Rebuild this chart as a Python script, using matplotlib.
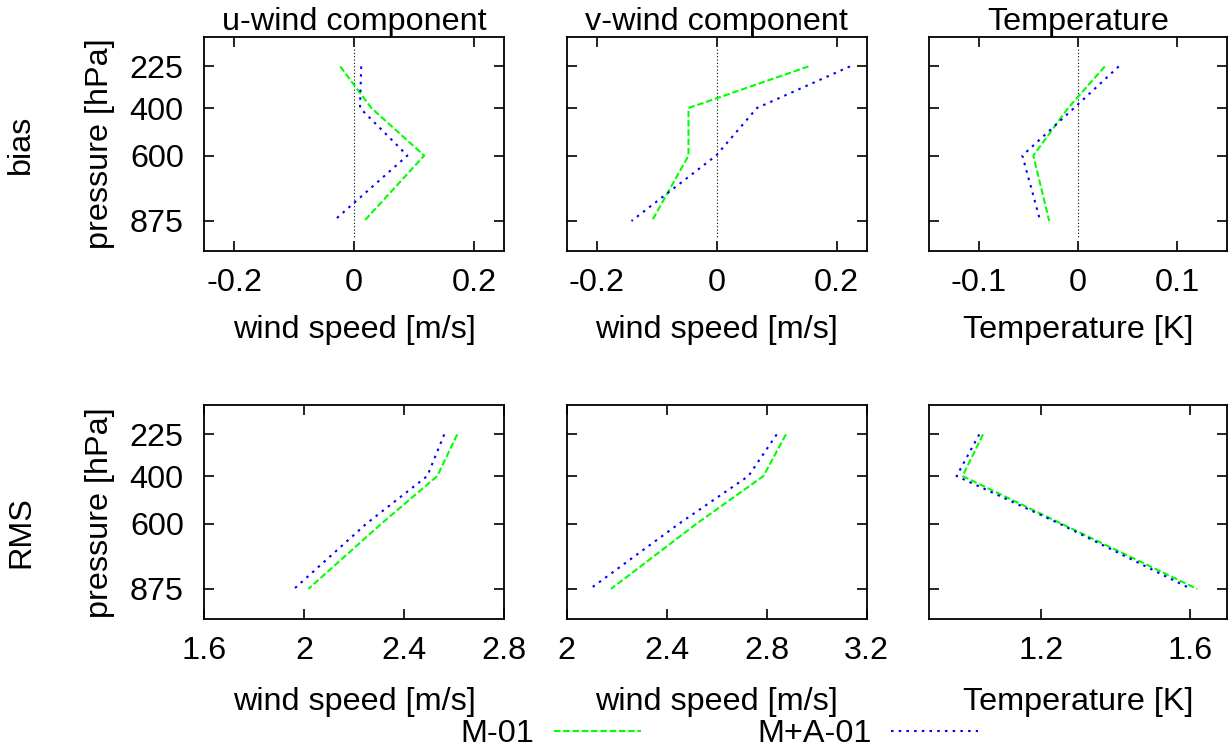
import matplotlib
matplotlib.use("Agg")
import matplotlib.pyplot as plt

plt.rcParams["font.family"] = ["Liberation Sans", "DejaVu Sans"]
plt.rcParams["axes.unicode_minus"] = False

# pressure levels (hPa)
pressure = [225, 400, 600, 875]

# bias profiles
bias_u_m01 = [-0.023, 0.029, 0.117, 0.017]
bias_u_ma01 = [0.012, 0.010, 0.089, -0.034]
bias_v_m01 = [0.153, -0.047, -0.047, -0.108]
bias_v_ma01 = [0.222, 0.067, -0.001, -0.142]
bias_t_m01 = [0.027, -0.010, -0.045, -0.029]
bias_t_ma01 = [0.041, -0.004, -0.056, -0.038]

# RMS profiles
rms_u_m01 = [2.613, 2.533, 2.31, 2.017]
rms_u_ma01 = [2.561, 2.493, 2.25, 1.96]
rms_v_m01 = [2.877, 2.787, 2.52, 2.177]
rms_v_ma01 = [2.84, 2.727, 2.45, 2.093]
rms_t_m01 = [1.045, 0.99, 1.255, 1.62]
rms_t_ma01 = [1.035, 0.974, 1.25, 1.604]

zero_line_p = [150, 950]

titles = ["u-wind component", "v-wind component", "Temperature"]
xlabels = ["wind speed [m/s]", "wind speed [m/s]", "Temperature [K]"]
row_labels = ["bias", "RMS"]
series_labels = ["M-01", "M+A-01"]

bias_xticks = [[-0.2, 0, 0.2], [-0.2, 0, 0.2], [-0.1, 0, 0.1]]
bias_xticklabels = [["-0.2", "0", "0.2"], ["-0.2", "0", "0.2"], ["-0.1", "0", "0.1"]]
bias_xlims = [(-0.25, 0.25), (-0.25, 0.25), (-0.15, 0.15)]
rms_xticks = [[1.6, 2.0, 2.4, 2.8], [2.0, 2.4, 2.8, 3.2], [1.2, 1.6]]
rms_xticklabels = [["1.6", "2", "2.4", "2.8"], ["2", "2.4", "2.8", "3.2"], ["1.2", "1.6"]]
rms_xlims = [(1.6, 2.8), (2.0, 3.2), (0.9, 1.7)]

W, H = 1228, 747
FS = 23.3
GREEN = "#00ff00"
BLUE = "#0000ff"

fig = plt.figure(figsize=(W / 100, H / 100), dpi=100)

col_left = [204, 566.7, 929]
col_width = [300, 300, 298]
row_top = [36.7, 404.7]
row_h = 214
xlabel_off = [79.3, 83.0]

bias_data = [(bias_u_m01, bias_u_ma01), (bias_v_m01, bias_v_ma01), (bias_t_m01, bias_t_ma01)]
rms_data = [(rms_u_m01, rms_u_ma01), (rms_v_m01, rms_v_ma01), (rms_t_m01, rms_t_ma01)]

handles = None
for r in range(2):
    data = bias_data if r == 0 else rms_data
    xticks = bias_xticks if r == 0 else rms_xticks
    xtl = bias_xticklabels if r == 0 else rms_xticklabels
    xlims = bias_xlims if r == 0 else rms_xlims
    for c in range(3):
        ax = fig.add_axes([col_left[c] / W, 1 - (row_top[r] + row_h) / H,
                           col_width[c] / W, row_h / H])
        m01, ma01 = data[c]
        if r == 0:
            ax.plot([0, 0], zero_line_p, color="black", lw=0.8, ls=(0, (1, 2)))
        l1, = ax.plot(m01, pressure, color=GREEN, lw=1.5, dashes=(3.1, 1.35),
                      label=series_labels[0])
        l2, = ax.plot(ma01, pressure, color=BLUE, lw=1.5, dashes=(1.2, 2.5),
                      label=series_labels[1])
        handles = [l1, l2]
        ax.set_ylim(1000, 100)
        ax.set_xlim(*xlims[c])
        ax.set_yticks(pressure)
        ax.set_xticks(xticks[c])
        ax.set_xticklabels(xtl[c])
        ax.tick_params(direction="in", top=True, right=True, length=7, width=1.2,
                       labelsize=FS)
        ax.tick_params(axis="y", pad=14.5)
        ax.tick_params(axis="x", pad=12.5)
        if c > 0:
            ax.set_yticklabels([])
        for sp in ax.spines.values():
            sp.set_linewidth(1.3)
        if r == 0:
            ax.set_title(titles[c], fontsize=FS, pad=5)
        xc = (col_left[c] + col_width[c] / 2) / W
        yc = 1 - (row_top[r] + row_h + xlabel_off[r]) / H
        fig.text(xc, yc, xlabels[c], fontsize=FS, ha="center", va="center")

    # row-level labels
    fig.text(100 / W, 1 - (144 if r == 0 else 512.5) / H, "pressure [hPa]",
             fontsize=FS, rotation=90, ha="center", va="center")
    fig.text(21 / W, 1 - (144 if r == 0 else 532.5) / H, row_labels[r],
             fontsize=FS, rotation=90, ha="center", va="center")

fig.legend(handles, series_labels, loc="center left",
           bbox_to_anchor=(460.6 / W, 1 - 734 / H), ncol=2, markerfirst=False,
           frameon=False, fontsize=FS, handlelength=2.7, handletextpad=0.59,
           columnspacing=3.6, borderpad=0, borderaxespad=0)

fig.savefig("out.png", dpi=100)
